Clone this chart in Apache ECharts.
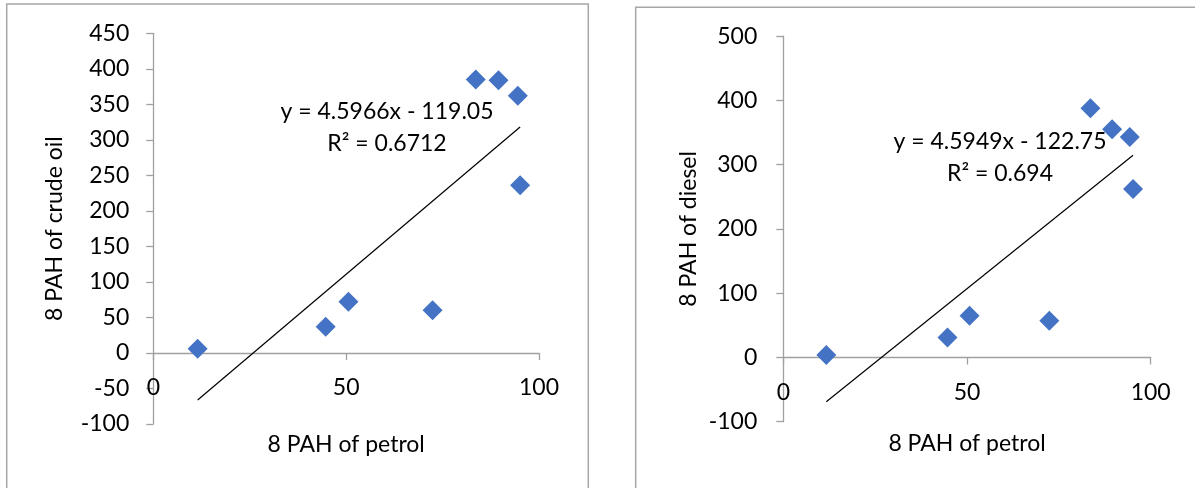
<!DOCTYPE html>
<html>
<head>
<meta charset="utf-8">
<script src="https://cdn.jsdelivr.net/npm/echarts@6/dist/echarts.min.js"></script>
<style>
  html, body { margin: 0; padding: 0; background: #fff; }
  #chart { width: 1195px; height: 488px; }
</style>
</head>
<body>
<div id="chart"></div>
<script>
// 8 PAH values
const petrolVsCrude = [11.5, 44.7, 50.6, 72.4, 83.6, 89.5, 94.5, 95.1];
const crudeOil = [6, 37, 72, 60, 385, 384, 362, 236];
const petrolVsDiesel = [11.7, 44.7, 50.7, 72.4, 83.6, 89.5, 94.3, 95.2];
const diesel = [4, 31, 65, 57, 388, 355, 343, 262];

// Excel trendline coefficients shown on the charts
const crudeFit = { slope: 4.5966, intercept: -119.05, r2: "0.6712" };
const dieselFit = { slope: 4.5949, intercept: -122.75, r2: "0.694" };

const FONT = "Lato";
const BLUE = "#4472C4";
const AXIS_GRAY = "#a0a0a0";

const pairs = (xs, ys) => xs.map((x, i) => [x, ys[i]]);
const trend = (xs, fit) => {
  const lo = Math.min(...xs);
  const hi = Math.max(...xs);
  return [lo, hi].map(x => [x, fit.slope * x + fit.intercept]);
};
const eqText = fit =>
  `y = ${fit.slope}x - ${Math.abs(fit.intercept)}`;

const axisLine = { lineStyle: { color: AXIS_GRAY, width: 1.3 } };
const axisTick = { length: 7, lineStyle: { color: AXIS_GRAY, width: 1.3 } };
const labelStyle = { color: "#000", fontFamily: FONT, fontSize: 23 };

// labels sit above the grid bottom, like Excel draws them near the zero line
function xAxisFor(gridIndex, labelMargin, nameGap) {
  return {
    type: "value",
    gridIndex,
    min: 0,
    max: 100,
    interval: 50,
    name: "8 PAH of petrol",
    nameLocation: "middle",
    nameGap,
    nameTextStyle: { ...labelStyle },
    axisLine: { ...axisLine, onZero: true },
    axisTick,
    axisLabel: { ...labelStyle, margin: labelMargin },
    splitLine: { show: false },
  };
}

function yAxisFor(gridIndex, name, min, max, interval, margin, gap) {
  return {
    type: "value",
    gridIndex,
    min,
    max,
    interval,
    name,
    nameLocation: "middle",
    nameGap: gap,
    nameTextStyle: { ...labelStyle },
    axisLine: { show: true, ...axisLine },
    axisTick: { show: true, ...axisTick },
    axisLabel: { ...labelStyle, margin },
    splitLine: { show: false },
  };
}

const chart = echarts.init(document.getElementById("chart"));

const option = {
  animation: false,
  backgroundColor: "#fff",
  textStyle: { fontFamily: FONT },
  grid: [
    { left: 153.3, right: 656, top: 33.3, bottom: 64, outerBoundsMode: "none" },
    { left: 783.3, right: 44.3, top: 36.2, bottom: 66.3, outerBoundsMode: "none" },
  ],
  xAxis: [xAxisFor(0, -47.5, 9.5), xAxisFor(1, -40.5, 10)],
  yAxis: [
    yAxisFor(0, "8 PAH of crude oil", -100, 450, 50, 24, 87),
    yAxisFor(1, "8 PAH of diesel", -100, 500, 100, 26, 83),
  ],
  graphic: [
    // chart area borders
    {
      type: "rect",
      shape: { x: 6.7, y: 4, width: 581.6, height: 520 },
      style: { fill: "none", stroke: "#a6a6a6", lineWidth: 1.5 },
      z: 0,
    },
    {
      type: "rect",
      shape: { x: 635.7, y: 7.3, width: 620, height: 520 },
      style: { fill: "none", stroke: "#a6a6a6", lineWidth: 1.5 },
      z: 0,
    },
    // trendline labels
    {
      type: "text",
      x: 387, y: 112,
      style: { text: eqText(crudeFit), font: `23px ${FONT}`, fill: "#000", align: "center", verticalAlign: "middle" },
      z: 10,
    },
    {
      type: "text",
      x: 387, y: 143.5,
      style: { text: `R² = ${crudeFit.r2}`, font: `23px ${FONT}`, fill: "#000", align: "center", verticalAlign: "middle" },
      z: 10,
    },
    {
      type: "text",
      x: 1000, y: 142,
      style: { text: eqText(dieselFit), font: `23px ${FONT}`, fill: "#000", align: "center", verticalAlign: "middle" },
      z: 10,
    },
    {
      type: "text",
      x: 1000, y: 174,
      style: { text: `R² = ${dieselFit.r2}`, font: `23px ${FONT}`, fill: "#000", align: "center", verticalAlign: "middle" },
      z: 10,
    },
  ],
  series: [
    {
      name: "crude oil",
      type: "scatter",
      xAxisIndex: 0,
      yAxisIndex: 0,
      symbol: "diamond",
      symbolSize: 20,
      itemStyle: { color: BLUE, opacity: 1 },
      data: pairs(petrolVsCrude, crudeOil),
    },
    {
      name: "crude oil trend",
      type: "line",
      xAxisIndex: 0,
      yAxisIndex: 0,
      symbol: "none",
      lineStyle: { color: "#000", width: 1.2 },
      data: trend(petrolVsCrude, crudeFit),
    },
    {
      name: "diesel",
      type: "scatter",
      xAxisIndex: 1,
      yAxisIndex: 1,
      symbol: "diamond",
      symbolSize: 20,
      itemStyle: { color: BLUE, opacity: 1 },
      data: pairs(petrolVsDiesel, diesel),
    },
    {
      name: "diesel trend",
      type: "line",
      xAxisIndex: 1,
      yAxisIndex: 1,
      symbol: "none",
      lineStyle: { color: "#000", width: 1.2 },
      data: trend(petrolVsDiesel, dieselFit),
    },
  ],
};

chart.setOption(option);
</script>
</body>
</html>
